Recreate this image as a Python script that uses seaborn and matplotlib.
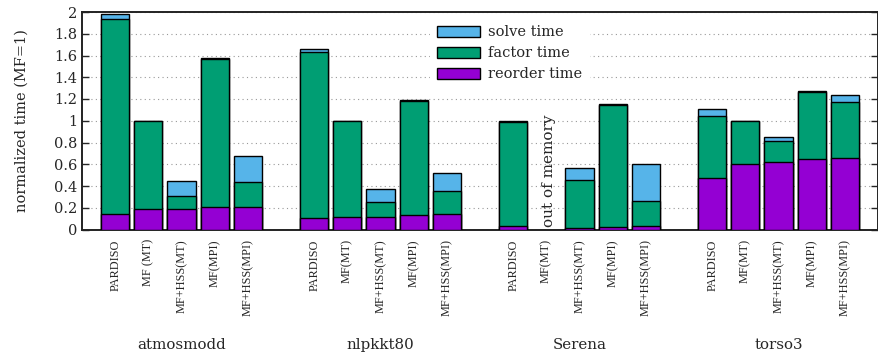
import numpy as np
import pandas as pd
import seaborn as sns
import matplotlib.pyplot as plt

# normalized timings (MF = 1), None = out of memory
groups = ["atmosmodd", "nlpkkt80", "Serena", "torso3"]
methods = ["PARDISO", "MF(MT)", "MF+HSS(MT)", "MF(MPI)", "MF+HSS(MPI)"]
tick_labels = [
    ["PARDISO", "MF (MT)", "MF+HSS(MT)", "MF(MPI)", "MF+HSS(MPI)"],
    ["PARDISO", "MF(MT)", "MF+HSS(MT)", "MF(MPI)", "MF+HSS(MPI)"],
    ["PARDISO", "MF(MT)", "MF+HSS(MT)", "MF(MPI)", "MF+HSS(MPI)"],
    ["PARDISO", "MF(MT)", "MF+HSS(MT)", "MF(MPI)", "MF+HSS(MPI)"],
]
reorder_time = [
    [0.14, 0.185, 0.185, 0.21, 0.21],
    [0.108, 0.112, 0.118, 0.133, 0.14],
    [0.035, None, 0.017, 0.026, 0.035],
    [0.47, 0.605, 0.617, 0.645, 0.66],
]
factor_time = [
    [1.80, 0.81, 0.12, 1.355, 0.227],
    [1.52, 0.885, 0.132, 1.052, 0.217],
    [0.957, None, 0.438, 1.122, 0.225],
    [0.57, 0.39, 0.196, 0.62, 0.512],
]
solve_time = [
    [0.04, 0.006, 0.14, 0.01, 0.236],
    [0.034, 0.004, 0.12, 0.006, 0.16],
    [0.01, None, 0.113, 0.004, 0.34],
    [0.065, 0.006, 0.037, 0.007, 0.061],
]

colors = {"reorder": "#9400d3", "factor": "#009e73", "solve": "#56b4e9"}

rows = []
for g, grp in enumerate(groups):
    for m, meth in enumerate(methods):
        r = reorder_time[g][m]
        if r is None:
            continue
        f = factor_time[g][m]
        s = solve_time[g][m]
        rows.append({"group": grp, "method": meth, "slot": g * 6 + m,
                     "reorder": r, "factor_top": r + f, "total": r + f + s})
df = pd.DataFrame(rows)

sns.set_style("ticks")
plt.rcParams["font.family"] = ["DejaVu Serif"]

fig = plt.figure(figsize=(8.79, 3.52), dpi=100)
ax = fig.add_axes([82 / 879, 1 - 229.5 / 352, 796 / 879, 217.5 / 352])

bar_kw = dict(native_scale=True, width=0.85, edgecolor="black",
              linewidth=1.0, ax=ax, errorbar=None, saturation=1, zorder=3)
sns.barplot(data=df, x="slot", y="total", color=colors["solve"],
            label="solve time", **bar_kw)
sns.barplot(data=df, x="slot", y="factor_top", color=colors["factor"],
            label="factor time", **bar_kw)
sns.barplot(data=df, x="slot", y="reorder", color=colors["reorder"],
            label="reorder time", **bar_kw)

ax.set_xlim(-1, 23)
ax.set_ylim(0, 2)
ax.set_yticks(np.arange(0, 2.01, 0.2))
ax.set_yticklabels(["0", "0.2", "0.4", "0.6", "0.8", "1", "1.2", "1.4",
                    "1.6", "1.8", "2"], fontsize=10.5)
ax.yaxis.grid(True, linestyle=(0, (1, 3)), color="#999999", linewidth=0.8)
ax.set_axisbelow(True)
ax.tick_params(axis="y", direction="in", length=5, right=True, width=1)

slots = [g * 6 + m for g in range(len(groups)) for m in range(len(methods))]
ax.set_xticks(slots)
ax.set_xticklabels([lab for labs in tick_labels for lab in labs],
                   rotation=90, fontsize=8.8, family=["Liberation Serif"],
                   va="top", ha="center")
ax.tick_params(axis="x", length=0, pad=7)
ax.set_xlabel("")
ax.set_ylabel("normalized time (MF=1)", fontsize=10.5, labelpad=18)

for sp in ax.spines.values():
    sp.set_linewidth(1.4)
    sp.set_color("#222222")

for g, grp in enumerate(groups):
    ax.text(g * 6 + 2, -0.53, grp, transform=ax.get_xaxis_transform(),
            ha="center", va="center", fontsize=10.8)

ax.text(13.08, 0.02, "out of memory", rotation=90, ha="center", va="bottom",
        fontsize=11)

handles, labels = ax.get_legend_handles_labels()
leg = ax.legend(handles, labels, loc="upper left",
                bbox_to_anchor=(0.428, 1.005), frameon=True, fontsize=10.5,
                handlelength=2.9, handleheight=0.75, labelspacing=0.48,
                handletextpad=0.6, borderpad=0.5)
leg.get_frame().set_facecolor("white")
leg.get_frame().set_edgecolor("none")
leg.get_frame().set_alpha(1)
leg.set_zorder(5)

fig.savefig("out.png", dpi=100)
